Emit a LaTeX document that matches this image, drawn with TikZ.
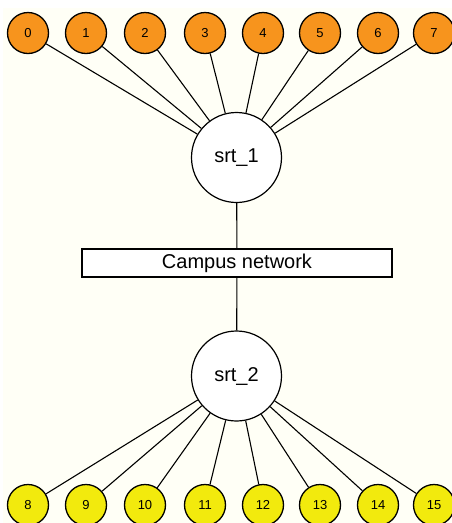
\documentclass[tikz,border=0pt]{standalone}
\usepackage{fontspec}
\setmainfont{Liberation Sans}
\definecolor{bgcream}{HTML}{FFFFF6}
\definecolor{toporange}{HTML}{F7941D}
\definecolor{botyellow}{HTML}{F2EA0D}
\begin{document}
\begin{tikzpicture}[x=1pt,y=-1pt,
  leaf/.style={circle,draw=black,line width=1.3pt,minimum size=41pt,inner sep=0pt,font=\fontsize{13}{13}\selectfont},
  topleaf/.style={leaf,fill=toporange},
  botleaf/.style={leaf,fill=botyellow},
  router/.style={circle,draw=black,line width=1.2pt,fill=white,minimum size=90pt,inner sep=0pt,font=\fontsize{20}{20}\selectfont},
  netbox/.style={rectangle,draw=black,line width=1.1pt,fill=white,minimum width=310pt,minimum height=28pt,inner sep=0pt,font=\fontsize{20}{20}\selectfont},
  link/.style={line width=1.1pt}]
\useasboundingbox (0,0) rectangle (452,523);
\fill[white] (0,0) rectangle (452,523);
\fill[bgcream] (3,8) rectangle (452,523);
\node[router] (s1) at (236.5,157.5) {srt\_1};
\node[router] (s2) at (236.5,376) {srt\_2};
\node[netbox] (net) at (237,263) {Campus network};
\foreach \i/\x in {0/28,1/86,2/145,3/205,4/263,5/320,6/378,7/434}{
  \node[topleaf] (t\i) at (\x,33) {\i};
  \draw[link] (t\i) -- (s1);
}
\foreach \i/\x in {8/28,9/86,10/145,11/205,12/263,13/320,14/378,15/434}{
  \node[botleaf] (b\i) at (\x,505) {\i};
  \draw[link] (b\i) -- (s2);
}
\draw[link] (s1) -- (net);
\draw[link] (net) -- (s2);
\end{tikzpicture}
\end{document}
